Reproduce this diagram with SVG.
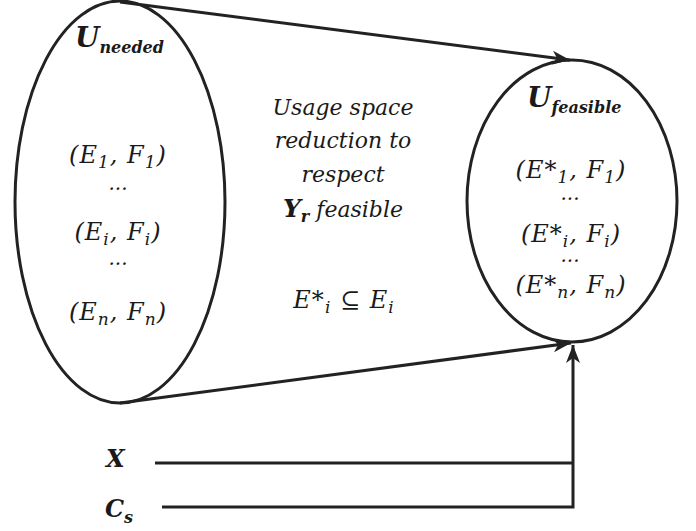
<svg xmlns="http://www.w3.org/2000/svg" width="696" height="531" viewBox="0 0 696 531">
<style>
.shape{fill:none;stroke:#222;stroke-width:3}
.conn{fill:none;stroke:#222;stroke-width:3}
text{font-family:"DejaVu Serif","Liberation Serif",serif;font-style:italic;fill:#1a1a1a}
.m{font-size:22px;text-anchor:middle}
.t{font-size:24px;text-anchor:middle;letter-spacing:1px}
.d{font-size:20px;text-anchor:middle}
.s{font-size:17px}
.bU{font-size:28px;font-weight:bold}
.bs{font-size:16px;font-weight:bold}
.lbl{font-size:24px;font-weight:bold}
</style>
<defs>
<marker id="ah" markerUnits="userSpaceOnUse" markerWidth="20" markerHeight="16" refX="18" refY="7" orient="auto">
<path d="M0,0 L18,7 L0,14 L5,7 Z" fill="#222"/>
</marker>
</defs>
<g id="connectors">
<path class="conn" d="M120,2 L570,60" marker-end="url(#ah)"/>
<path class="conn" d="M120,403 L571,343" marker-end="url(#ah)"/>
<path class="conn" d="M155,463 H573"/>
<path class="conn" d="M162,507 H573 V345" marker-end="url(#ah)"/>
</g>
<g id="u-needed">
<ellipse class="shape" cx="120" cy="202" rx="105" ry="201"/>
<text x="75" y="47"><tspan class="bU">U</tspan><tspan class="bs" dy="6">needed</tspan></text>
<text class="t" x="118" y="163">(E<tspan class="s" dy="5">1</tspan><tspan dy="-5">, F</tspan><tspan class="s" dy="5">1</tspan><tspan dy="-5">)</tspan></text>
<text class="d" x="118" y="190">...</text>
<text class="t" x="118" y="240">(E<tspan class="s" dy="5">i</tspan><tspan dy="-5">, F</tspan><tspan class="s" dy="5">i</tspan><tspan dy="-5">)</tspan></text>
<text class="d" x="118" y="265">...</text>
<text class="t" x="118" y="320">(E<tspan class="s" dy="5">n</tspan><tspan dy="-5">, F</tspan><tspan class="s" dy="5">n</tspan><tspan dy="-5">)</tspan></text>
</g>
<g id="reduction">
<text class="m" x="343" y="115">Usage space</text>
<text class="m" x="343" y="148">reduction to</text>
<text class="m" x="343" y="182">respect</text>
<text class="m" x="343" y="217"><tspan font-weight="bold" font-size="25">Y</tspan><tspan font-size="16" font-weight="bold" dy="5">r</tspan><tspan dy="-5"> feasible</tspan></text>
<text class="t" x="344" y="308">E*<tspan class="s" dy="5">i</tspan><tspan dy="-5"> ⊆ E</tspan><tspan class="s" dy="5">i</tspan></text>
</g>
<g id="u-feasible">
<ellipse class="shape" cx="572" cy="201" rx="105" ry="141"/>
<text x="527" y="107"><tspan class="bU">U</tspan><tspan class="bs" dy="6">feasible</tspan></text>
<text class="t" x="571" y="178">(E*<tspan class="s" dy="5">1</tspan><tspan dy="-5">, F</tspan><tspan class="s" dy="5">1</tspan><tspan dy="-5">)</tspan></text>
<text class="d" x="570" y="200">...</text>
<text class="t" x="571" y="242">(E*<tspan class="s" dy="5">i</tspan><tspan dy="-5">, F</tspan><tspan class="s" dy="5">i</tspan><tspan dy="-5">)</tspan></text>
<text class="d" x="570" y="262">...</text>
<text class="t" x="571" y="293">(E*<tspan class="s" dy="5">n</tspan><tspan dy="-5">, F</tspan><tspan class="s" dy="5">n</tspan><tspan dy="-5">)</tspan></text>
</g>
<g id="x-input">
<text class="lbl" x="106" y="467">X</text>
</g>
<g id="cs-input">
<text class="lbl" x="105" y="517">C<tspan class="bs" dy="6">s</tspan></text>
</g>
</svg>
